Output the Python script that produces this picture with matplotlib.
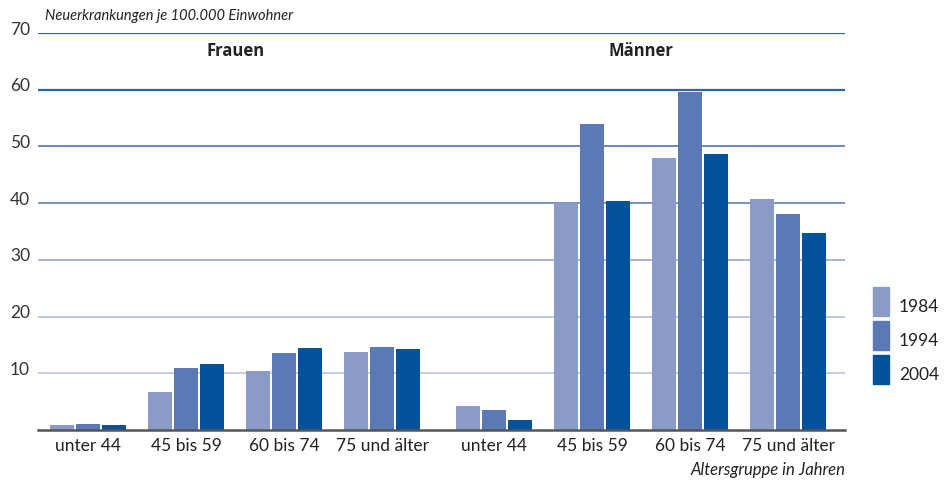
import numpy as np
import matplotlib.pyplot as plt
from matplotlib.patches import Rectangle
from matplotlib.transforms import blended_transform_factory

# Daten: Neuerkrankungen je 100.000 Einwohner
age_groups = ['unter 44', '45 bis 59', '60 bis 74', '75 und älter']
years = ['1984', '1994', '2004']
frauen = {
    '1984': [0.9, 6.7, 10.4, 13.8],
    '1994': [1.1, 10.9, 13.5, 14.7],
    '2004': [0.9, 11.6, 14.4, 14.2],
}
maenner = {
    '1984': [4.3, 40.1, 48.0, 40.8],
    '1994': [3.6, 53.9, 59.6, 38.0],
    '2004': [1.8, 40.3, 48.7, 34.7],
}
colors = ['#8a9bc8', '#5b7ab5', '#03529b']
grid_colors = {10: '#c3cde8', 20: '#b9c5e1', 30: '#a8b6da', 40: '#7d90c4',
               50: '#6c84bb', 60: '#2f64a3', 70: '#2f64a3'}

plt.rcParams['font.family'] = ['Lato', 'DejaVu Sans']

fig = plt.figure(figsize=(9.45, 4.84), dpi=100)
ax = fig.add_axes([38 / 945, 1 - 430 / 484, (845 - 38) / 945, (430 - 33) / 484])

# Gruppenpositionen (Frauen links, Männer rechts mit kleiner Lücke)
pos_f = np.arange(4)
pos_m = np.arange(4) + 4.14
width = 0.245
step = 0.265

for i, y in enumerate(years):
    off = (i - 1) * step
    ax.bar(pos_f + off, frauen[y], width, color=colors[i], zorder=3)
    ax.bar(pos_m + off, maenner[y], width, color=colors[i], zorder=3)

ax.set_xlim(-0.51, 7.72)
ax.set_ylim(0, 70)

# Gitterlinien und y-Beschriftung knapp über der Linie
lab_tr = blended_transform_factory(fig.transFigure, ax.transData)
for v, c in grid_colors.items():
    lw = 1.6 if v >= 60 else 1.4
    ax.axhline(v, color=c, linewidth=lw, zorder=1)
    ax.text(10 / 945, v + 0.6, str(v), transform=lab_tr, fontsize=12.5,
            color='#333333', ha='left', va='center', clip_on=False)

ax.set_yticks([])
ax.set_xticks(np.concatenate([pos_f, pos_m]))
ax.set_xticklabels(age_groups * 2, fontsize=12.5, color='#222222')
ax.tick_params(axis='x', length=0, pad=6)
for s in ['top', 'right', 'left']:
    ax.spines[s].set_visible(False)
ax.spines['bottom'].set_color('#555555')
ax.spines['bottom'].set_linewidth(1.8)
ax.spines['bottom'].set_zorder(4)

ax.text(1.5, 66.8, 'Frauen', ha='center', va='center', fontsize=12,
        fontweight='bold', color='#222222', family='Open Sans')
ax.text(5.64, 66.8, 'Männer', ha='center', va='center', fontsize=12,
        fontweight='bold', color='#222222', family='Open Sans')

fig.text(45 / 945, 1 - 16 / 484, 'Neuerkrankungen je 100.000 Einwohner',
         fontsize=10.5, style='italic', color='#222222', ha='left', va='center')
fig.text(845 / 945, 1 - 470 / 484, 'Altersgruppe in Jahren',
         fontsize=12, style='italic', color='#222222', ha='right', va='center')

# Legende
for i, y in enumerate(years):
    top = 287 + i * 34
    fig.patches.append(Rectangle((873 / 945, 1 - (top + 29) / 484), 16 / 945, 29 / 484,
                                 transform=fig.transFigure, color=colors[i]))
    fig.text(899 / 945, 1 - (top + 28) / 484, y, fontsize=12.5, color='#222222',
             ha='left', va='bottom')

fig.savefig('out.png', dpi=100)
